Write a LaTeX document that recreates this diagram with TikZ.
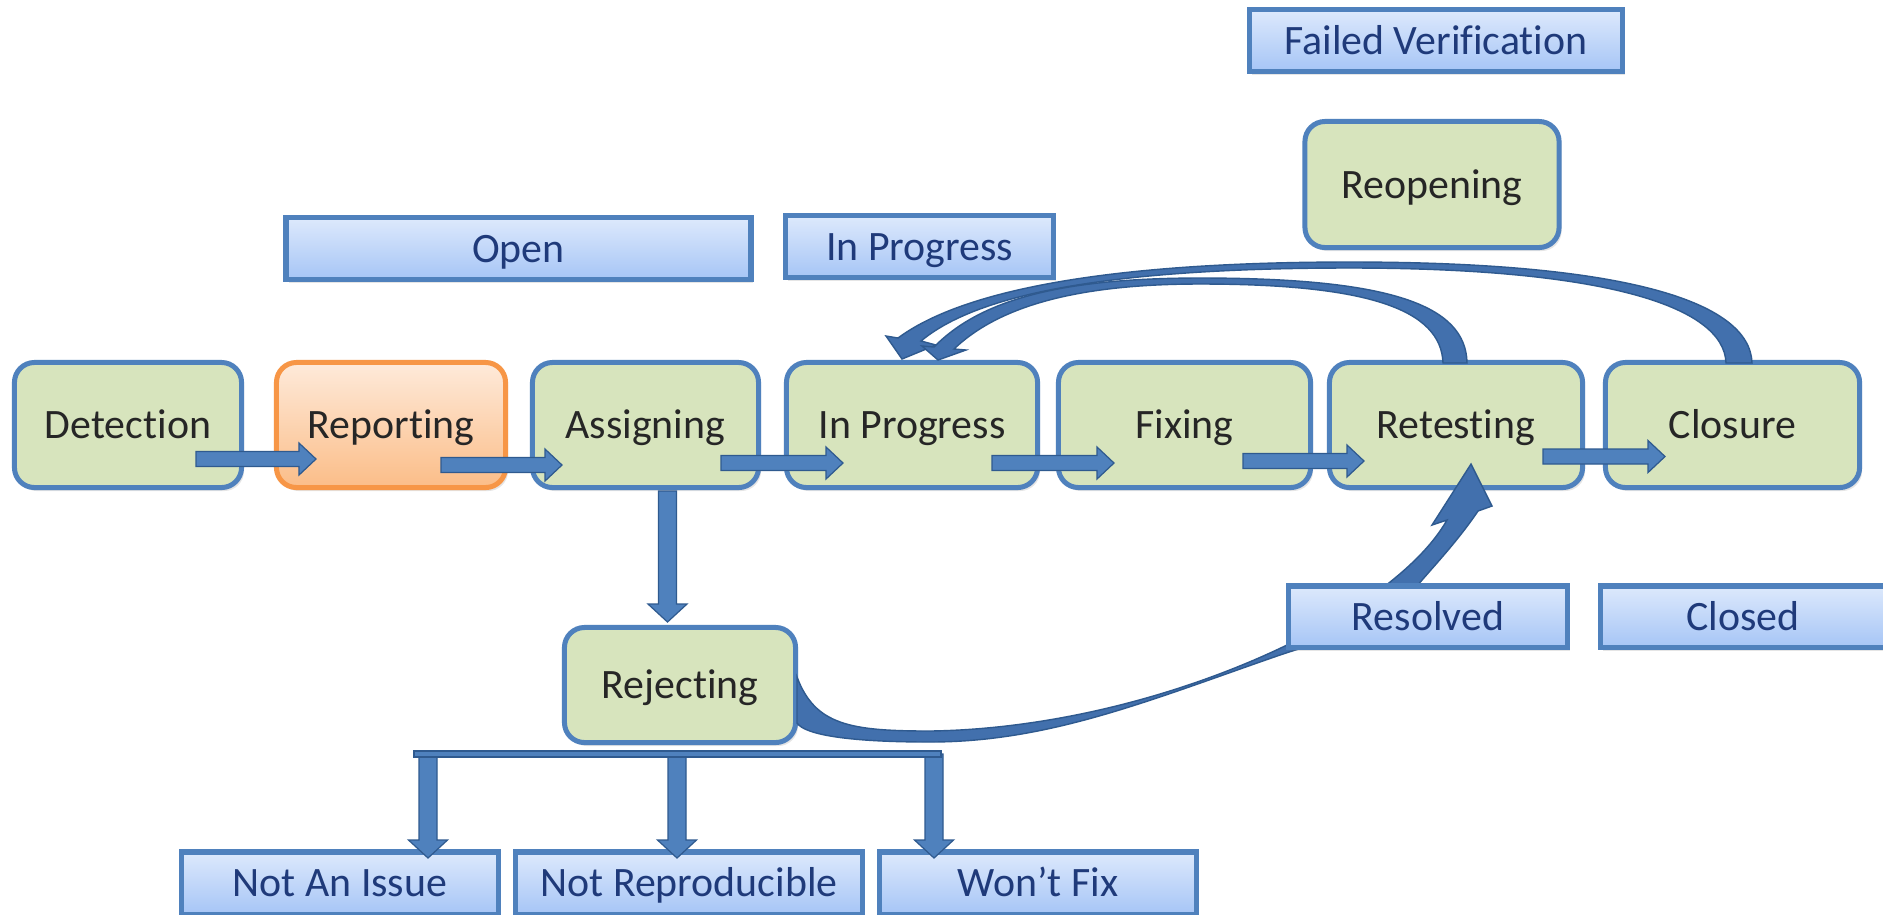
\documentclass[tikz,border=0pt]{standalone}
\usepackage{fontspec}
\setmainfont{Carlito}[Ligatures={NoCommon,NoContextual}]
\usetikzlibrary{calc,shadows}
\definecolor{gfill}{HTML}{D7E4BD}
\definecolor{bblue}{HTML}{4F81BD}
\definecolor{bdark}{HTML}{2F5A8F}
\definecolor{bandblue}{HTML}{4270AD}
\definecolor{ltop}{HTML}{DDE9FC}
\definecolor{lbot}{HTML}{A6C5F6}
\definecolor{ltext}{HTML}{1F3A7A}
\definecolor{gtext}{HTML}{262626}
\definecolor{otop}{HTML}{FEEADA}
\definecolor{obot}{HTML}{FBBD88}
\definecolor{oborder}{HTML}{F79646}
\tikzset{
  txt/.style={font=\fontsize{11.9}{14}\selectfont, text height=7.7pt, text depth=0pt, inner sep=0pt},
  shad/.style={drop shadow={shadow xshift=0.25mm, shadow yshift=-0.35mm, opacity=0.2}},
  greenbox/.style={txt, shad, draw=bblue, line width=0.5mm, fill=gfill, rounded corners=2mm, text=gtext, minimum height=12.5mm},
  orangebox/.style={greenbox, draw=oborder, top color=otop, bottom color=obot},
  labelbox/.style={txt, shad, draw=bblue, line width=0.55mm, top color=ltop, bottom color=lbot, text=ltext, minimum height=6.15mm},
  blockarr/.style={fill=bblue, draw=bdark, line width=0.35pt, line join=miter},
  bandarr/.style={fill=bandblue, draw=bdark, line width=0.4pt, line join=miter},
}
\newcommand\HArr[2]{\path[blockarr] let \p1=(#1), \p2=(#2) in
  (\x1,\y1+0.75mm) -- (\x2-1.7mm,\y1+0.75mm) -- (\x2-1.7mm,\y1+1.6mm) -- (\x2,\y1)
  -- (\x2-1.7mm,\y1-1.6mm) -- (\x2-1.7mm,\y1-0.75mm) -- (\x1,\y1-0.75mm) -- cycle;}
\newcommand\VArr[2]{\path[blockarr] let \p1=(#1), \p2=(#2) in
  (\x1-0.9mm,\y1) -- (\x1-0.9mm,\y2+1.8mm) -- (\x1-1.95mm,\y2+1.8mm) -- (\x1,\y2)
  -- (\x1+1.95mm,\y2+1.8mm) -- (\x1+0.9mm,\y2+1.8mm) -- (\x1+0.9mm,\y1) -- cycle;}
\begin{document}
\begin{tikzpicture}[x=0.01cm, y=-0.01cm]
\useasboundingbox (0,0) rectangle (1883,914);
\fill[white] (0,0) rectangle (1883,914);

% main row
\node[greenbox, minimum width=22.7mm] (det) at (128,425) {Detection};
\node[orangebox, minimum width=22.9mm] (rep) at (391,425) {Reporting};
\node[greenbox, minimum width=22.6mm] (asg) at (645.5,425) {Assigning};
\node[greenbox, minimum width=25.1mm] (inp) at (912,425) {In Progress};
\node[greenbox, minimum width=25.2mm] (fix) at (1184.5,425) {Fixing};
\node[greenbox, minimum width=25.3mm] (ret) at (1456,425) {Retesting};
\node[greenbox, minimum width=25.4mm] (clo) at (1732.5,425) {Closure};
\node[greenbox, minimum width=23.1mm, minimum height=11.5mm] (rej) at (680,685) {Rejecting};
\node[greenbox, minimum width=25.4mm, minimum height=12.6mm] (reo) at (1432,184.5) {Reopening};

% curved arrows
\path[bandarr] ($(clo)+(19.5,-62)$) .. controls (1750,300) and (1620,262) .. (1350,262)
  .. controls (1100,262) and (960,292) .. ($(inp)+(-14,-87)$)
  -- ($(inp)+(-26,-89)$) -- ($(inp)+(-10,-66)$) -- ($(inp)+(24,-80)$) -- ($(inp)+(9,-84)$)
  .. controls (975,296) and (1100,268) .. (1350,268)
  .. controls (1600,268) and (1724,305) .. ($(clo)+(-6.5,-62)$) -- cycle;
\path[bandarr] ($(ret)+(11,-62)$) .. controls (1466,305) and (1390,278) .. (1200,278)
  .. controls (1060,278) and (980,300) .. ($(inp)+(22,-78)$)
  -- ($(inp)+(10,-79)$) -- ($(inp)+(26,-65)$) -- ($(inp)+(54,-75)$) -- ($(inp)+(42,-76)$)
  .. controls (1000,305) and (1080,284) .. (1200,284)
  .. controls (1370,284) and (1441,310) .. ($(ret)+(-13,-62)$) -- cycle;
\path[bandarr] ($(rej)+(117,-8)$) .. controls (815,725) and (850,731) .. (930,731)
  .. controls (1150,728) and (1390,620) .. ($(ret)+(-9,95)$)
  -- ($(ret)+(-24,100)$) -- ($(ret)+(15,39)$) -- ($(ret)+(36,81)$) -- ($(ret)+(22,86)$)
  .. controls (1455,545) and (1428,572) .. (1412,592)
  .. controls (1380,630) and (1330,638) .. (1280,655)
  .. controls (1150,700) and (1050,742) .. (930,742)
  .. controls (850,742) and (805,735) .. ($(rej)+(117,38)$) -- cycle;

% state labels
\node[labelbox, minimum width=46.45mm] (open) at (518.5,248.5) {Open};
\node[labelbox, minimum width=26.75mm] (inpl) at (919.5,246.5) {In Progress};
\node[labelbox, minimum width=37.25mm] (fail) at (1436,40.5) {Failed Verification};
\node[labelbox, minimum width=27.85mm] (res) at (1428,616.5) {Resolved};
\node[labelbox, minimum width=28.45mm] (clsd) at (1743,616.5) {Closed};
\node[labelbox, minimum width=31.65mm, minimum height=6.25mm] (nai) at (340,883) {Not An Issue};
\node[labelbox, minimum width=34.65mm, minimum height=6.25mm] (nrp) at (689,883) {Not Reproducible};
\node[labelbox, minimum width=31.65mm, minimum height=6.25mm] (wfx) at (1038,883) {Won’t Fix};

% straight block arrows
\HArr{$(det)+(68,34)$}{$(rep)+(-75,34)$}
\HArr{$(rep)+(50,40)$}{$(asg)+(-83.5,40)$}
\HArr{$(asg)+(75.5,38)$}{$(inp)+(-69,38)$}
\HArr{$(inp)+(80,38)$}{$(fix)+(-70.5,38)$}
\HArr{$(fix)+(58.5,36)$}{$(ret)+(-92,36)$}
\HArr{$(ret)+(87,31.5)$}{$(clo)+(-67.5,31.5)$}
\VArr{$(asg)+(22,66)$}{$(rej)+(-12.5,-63)$}
\VArr{$(rej)+(-252,69)$}{$(nai)+(88,-25)$}
\VArr{$(rej)+(-3,69)$}{$(nrp)+(-12,-25)$}
\VArr{$(rej)+(254,69)$}{$(wfx)+(-104,-25)$}
\path[blockarr] ($(rej)+(-266,66)$) rectangle ($(rej)+(261,72)$);
\end{tikzpicture}
\end{document}
